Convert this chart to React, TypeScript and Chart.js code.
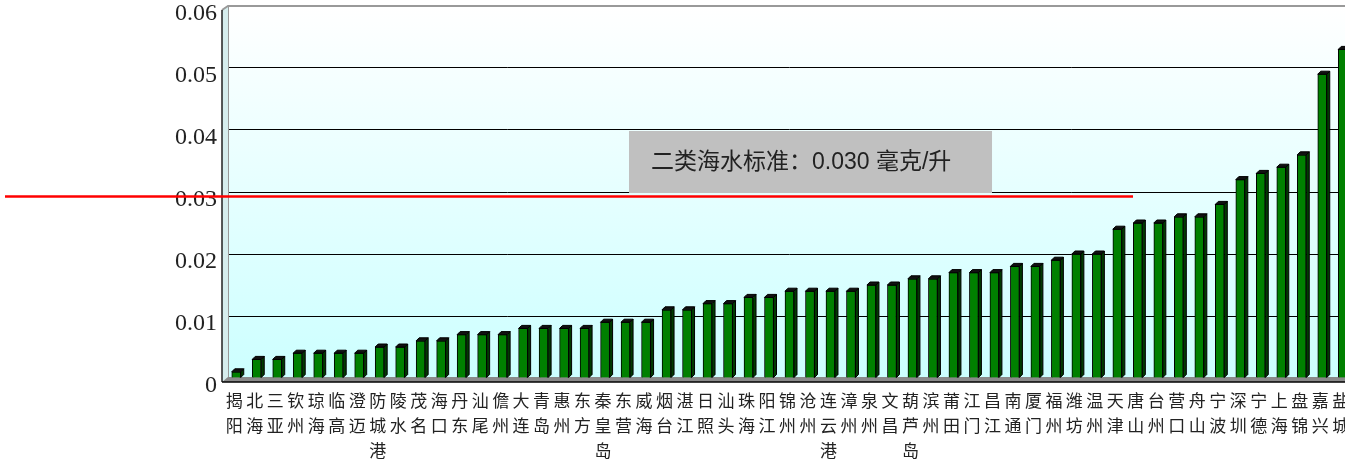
import { useEffect, useRef } from "react";
import { Chart, registerables } from "chart.js";

Chart.register(...registerables);

const categories = [
  "揭阳", "北海", "三亚", "钦州", "琼海", "临高", "澄迈", "防城港", "陵水", "茂名",
  "海口", "丹东", "汕尾", "儋州", "大连", "青岛", "惠州", "东方", "秦皇岛", "东营",
  "威海", "烟台", "湛江", "日照", "汕头", "珠海", "阳江", "锦州", "沧州", "连云港",
  "漳州", "泉州", "文昌", "葫芦岛", "滨州", "莆田", "江门", "昌江", "南通", "厦门",
  "福州", "潍坊", "温州", "天津", "唐山", "台州", "营口", "舟山", "宁波", "深圳",
  "宁德", "上海", "盘锦", "嘉兴", "盐城",
];

const values = [
  0.001, 0.003, 0.003, 0.004, 0.004, 0.004, 0.004, 0.005, 0.005, 0.006,
  0.006, 0.007, 0.007, 0.007, 0.008, 0.008, 0.008, 0.008, 0.009, 0.009,
  0.009, 0.011, 0.011, 0.012, 0.012, 0.013, 0.013, 0.014, 0.014, 0.014,
  0.014, 0.015, 0.015, 0.016, 0.016, 0.017, 0.017, 0.017, 0.018, 0.018,
  0.019, 0.020, 0.020, 0.024, 0.025, 0.025, 0.026, 0.026, 0.028, 0.032,
  0.033, 0.034, 0.036, 0.049, 0.053,
];

const yTickLabels = ["0", "0.01", "0.02", "0.03", "0.04", "0.05", "0.06"];
const standardValue = 0.03;
const standardLabel = "二类海水标准：0.030 毫克/升";

const backgroundPlugin = {
  id: "bg3d",
  beforeDraw(chart: any) {
    const { ctx, chartArea: a } = chart;
    ctx.save();
    const g = ctx.createLinearGradient(0, a.top, 0, a.bottom);
    g.addColorStop(0, "#ffffff");
    g.addColorStop(1, "#ccffff");
    ctx.fillStyle = g;
    ctx.fillRect(a.left, a.top, a.right - a.left, a.bottom - a.top);
    ctx.restore();
  },
  beforeDatasetsDraw(chart: any) {
    const { ctx, chartArea: a } = chart;
    ctx.save();
    // left wall
    ctx.fillStyle = "#d6eeee";
    ctx.beginPath();
    ctx.moveTo(a.left - 4, a.top + 4);
    ctx.lineTo(a.left + 2, a.top);
    ctx.lineTo(a.left + 2, a.bottom);
    ctx.lineTo(a.left - 4, a.bottom + 4);
    ctx.closePath();
    ctx.fill();
    ctx.strokeStyle = "#999999";
    ctx.lineWidth = 2;
    ctx.beginPath();
    ctx.moveTo(a.left - 4, a.top + 4);
    ctx.lineTo(a.left + 2, a.top);
    ctx.lineTo(a.right + 10, a.top);
    ctx.stroke();
    ctx.lineWidth = 1;
    ctx.beginPath();
    ctx.moveTo(a.left + 2.5, a.top);
    ctx.lineTo(a.left + 2.5, a.bottom);
    ctx.stroke();
    ctx.strokeStyle = "#222222";
    ctx.lineWidth = 1.5;
    ctx.beginPath();
    ctx.moveTo(a.left - 4, a.top + 4);
    ctx.lineTo(a.left - 4, a.bottom + 4);
    ctx.stroke();
    // floor
    ctx.fillStyle = "#8a8a8a";
    ctx.beginPath();
    ctx.moveTo(a.left - 4, a.bottom + 4);
    ctx.lineTo(a.left + 2, a.bottom - 1);
    ctx.lineTo(a.right + 10, a.bottom - 1);
    ctx.lineTo(a.right + 10, a.bottom + 4);
    ctx.closePath();
    ctx.fill();
    ctx.strokeStyle = "#000000";
    ctx.lineWidth = 1.5;
    ctx.beginPath();
    ctx.moveTo(a.left - 4, a.bottom + 4);
    ctx.lineTo(a.right + 10, a.bottom + 4);
    ctx.stroke();
    ctx.restore();
  },
};

const bar3dPlugin = {
  id: "bar3d",
  afterDatasetsDraw(chart: any) {
    const meta = chart.getDatasetMeta(0);
    const ctx = chart.ctx;
    const d = 3;
    ctx.save();
    ctx.strokeStyle = "#000000";
    ctx.lineWidth = 1;
    meta.data.forEach((el: any) => {
      const { x, y, base, width } = el.getProps(["x", "y", "base", "width"], true);
      const l = x - width / 2;
      const r = x + width / 2;
      ctx.fillStyle = "#003a00";
      ctx.beginPath();
      ctx.moveTo(r, y);
      ctx.lineTo(r + d, y - d);
      ctx.lineTo(r + d, base - d);
      ctx.lineTo(r, base);
      ctx.closePath();
      ctx.fill();
      ctx.stroke();
      ctx.fillStyle = "#111111";
      ctx.beginPath();
      ctx.moveTo(l, y);
      ctx.lineTo(l + d, y - d);
      ctx.lineTo(r + d, y - d);
      ctx.lineTo(r, y);
      ctx.closePath();
      ctx.fill();
      ctx.stroke();
    });
    ctx.restore();
  },
};

const standardPlugin = {
  id: "standard",
  afterDraw(chart: any) {
    const { ctx, chartArea: a, scales } = chart;
    const w = a.right - a.left;
    const yStd = scales.y.getPixelForValue(standardValue);
    const yTop = scales.y.getPixelForValue(0.04);
    const bx0 = a.left + w * 0.3576;
    const bx1 = a.left + w * 0.6797;
    ctx.save();
    ctx.fillStyle = "#c0c0c0";
    ctx.fillRect(bx0, yTop + 1, bx1 - bx0, yStd - yTop);
    ctx.fillStyle = "#222222";
    ctx.font = '23px "Liberation Sans", "Noto Sans CJK SC", sans-serif';
    ctx.textBaseline = "middle";
    ctx.textAlign = "left";
    ctx.fillText(standardLabel, bx0 + 22, (yTop + yStd) / 2 + 2);
    ctx.strokeStyle = "#ff0000";
    ctx.lineWidth = 2.5;
    ctx.beginPath();
    ctx.moveTo(5, yStd + 4.5);
    ctx.lineTo(a.left + w * 0.8048, yStd + 4.5);
    ctx.stroke();
    ctx.restore();
  },
};

export default function App() {
  const ref = useRef<HTMLCanvasElement>(null);

  useEffect(() => {
    if (!ref.current) return;
    const chart = new Chart(ref.current, {
      type: "bar",
      data: {
        labels: categories,
        datasets: [
          {
            data: values,
            backgroundColor: "#008000",
            borderColor: "#000000",
            borderWidth: 1,
            barThickness: 9,
          },
        ],
      },
      options: {
        responsive: false,
        animation: false,
        layout: { padding: { left: 0, right: 3, top: 0, bottom: 0 } },
        plugins: {
          legend: { display: false },
          tooltip: { enabled: false },
        },
        scales: {
          x: {
            grid: { display: false, drawTicks: false },
            border: { display: false },
            ticks: {
              autoSkip: false,
              maxRotation: 0,
              minRotation: 0,
              padding: 10,
              labelOffset: -2,
              color: "#222222",
              font: { family: '"Noto Sans CJK SC", sans-serif', size: 17, lineHeight: 1.47 },
              callback: (_v: any, i: number) => categories[i].split(""),
            },
            afterFit: (s: any) => {
              s.height = 91;
              s.paddingLeft = 0;
              s.paddingRight = 0;
            },
          },
          y: {
            min: 0,
            max: 0.06,
            grid: { color: "#000000", lineWidth: 1, drawTicks: false },
            border: { display: false },
            ticks: {
              stepSize: 0.01,
              padding: 9,
              labelOffset: 8,
              color: "#222222",
              font: { family: '"Liberation Serif", serif', size: 24 },
              callback: (v: any) => yTickLabels[Math.round(Number(v) * 100)],
            },
            afterFit: (s: any) => {
              s.width = 226;
              s.paddingTop = 6;
              s.paddingBottom = 0;
            },
          },
        },
      },
      plugins: [backgroundPlugin, bar3dPlugin, standardPlugin],
    });
    return () => chart.destroy();
  }, []);

  return (
    <div
      style={{
        position: "fixed",
        left: 0,
        top: 0,
        width: 1345,
        height: 469,
        overflow: "hidden",
        background: "#ffffff",
      }}
    >
      <canvas ref={ref} width={1356} height={469} style={{ display: "block" }} />
    </div>
  );
}
